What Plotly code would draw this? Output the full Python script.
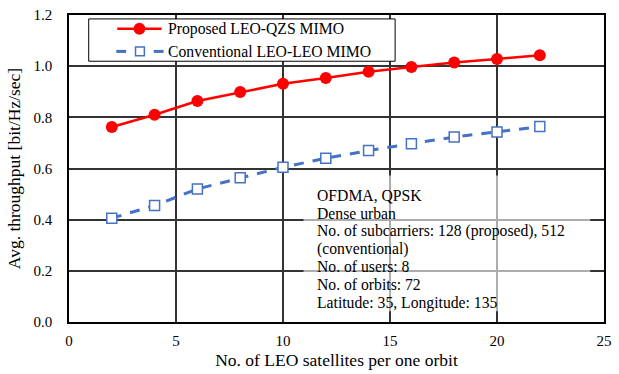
import plotly.graph_objects as go

# Satellites per orbit
sats = [2, 4, 6, 8, 10, 12, 14, 16, 18, 20, 22]

# Average throughput [bit/Hz/sec]
proposed = [0.762, 0.810, 0.864, 0.899, 0.931, 0.954, 0.978, 0.997, 1.014, 1.028, 1.043]
conventional = [0.406, 0.455, 0.520, 0.564, 0.605, 0.640, 0.670, 0.697, 0.723, 0.743, 0.764]

series_names = ["Proposed LEO-QZS MIMO", "Conventional LEO-LEO MIMO"]

x_ticks = [0, 5, 10, 15, 20, 25]
y_ticks = [0.0, 0.2, 0.4, 0.6, 0.8, 1.0, 1.2]

conditions = [
    "OFDMA, QPSK",
    "Dense urban",
    "No. of subcarriers: 128 (proposed), 512",
    "(conventional)",
    "No. of users: 8",
    "No. of orbits: 72",
    "Latitude: 35, Longitude: 135",
]

FONT = "Liberation Serif, Times New Roman, serif"
RED = "#FF0000"
BLUE = "#4472C4"

W, H = 619, 374
M = dict(l=69, r=7, t=12, b=50)
plot_w = W - M["l"] - M["r"]
plot_h = H - M["t"] - M["b"]


def px_x(px):
    """Page x pixel -> paper fraction."""
    return (px - M["l"]) / plot_w


def px_y(py):
    """Page y pixel -> paper fraction."""
    return 1 - (py - M["t"]) / plot_h


fig = go.Figure()
fig.add_trace(go.Scatter(
    x=sats, y=proposed, mode="lines+markers",
    name=series_names[0], showlegend=False,
    line=dict(color=RED, width=2.5),
    marker=dict(symbol="circle", size=12, color=RED),
))
fig.add_trace(go.Scatter(
    x=sats, y=conventional, mode="lines+markers",
    name=series_names[1], showlegend=False,
    line=dict(color=BLUE, width=3, dash="10px,9px"),
    marker=dict(symbol="square", size=10, color="white",
                line=dict(width=1.5, color=BLUE)),
))

shapes = []

# Semi-transparent panel behind the simulation conditions
shapes.append(dict(
    type="rect", xref="paper", yref="paper",
    x0=px_x(307), x1=px_x(598), y0=px_y(313), y1=px_y(175),
    fillcolor="rgba(255,255,255,0.6)", line=dict(width=0), layer="above",
))

# Legend box
shapes.append(dict(
    type="rect", xref="paper", yref="paper",
    x0=px_x(89), x1=px_x(400), y0=px_y(59), y1=px_y(16),
    fillcolor="white", line=dict(color="black", width=1), layer="above",
))

row_y = [26, 49]
# Key 1: solid red line with filled circle
shapes.append(dict(
    type="line", xref="paper", yref="paper",
    x0=px_x(118), x1=px_x(163), y0=px_y(row_y[0]), y1=px_y(row_y[0]),
    line=dict(color=RED, width=2.5), layer="above",
))
shapes.append(dict(
    type="circle", xref="paper", yref="paper",
    x0=px_x(140.5 - 6), x1=px_x(140.5 + 6),
    y0=px_y(row_y[0] + 6), y1=px_y(row_y[0] - 6),
    fillcolor=RED, line=dict(color=RED, width=0), layer="above",
))
# Key 2: dashed blue segments with open square
for a, b in [(117, 127), (155, 165)]:
    shapes.append(dict(
        type="line", xref="paper", yref="paper",
        x0=px_x(a), x1=px_x(b), y0=px_y(row_y[1]), y1=px_y(row_y[1]),
        line=dict(color=BLUE, width=3), layer="above",
    ))
shapes.append(dict(
    type="rect", xref="paper", yref="paper",
    x0=px_x(141 - 4.5), x1=px_x(141 + 4.5),
    y0=px_y(row_y[1] + 4.5), y1=px_y(row_y[1] - 4.5),
    fillcolor="white", line=dict(color=BLUE, width=1.5), layer="above",
))

for name, ry in zip(series_names, row_y):
    fig.add_annotation(
        x=px_x(168), y=px_y(ry), xref="paper", yref="paper",
        xanchor="left", yanchor="middle", align="left",
        text=name, showarrow=False, borderpad=0,
        font=dict(family=FONT, size=15.7, color="black"),
    )

# Condition text, one annotation per line for tight line spacing
line_px = 18.1
for i, txt in enumerate(conditions):
    fig.add_annotation(
        x=px_x(320), y=px_y(195.7 + i * line_px), xref="paper", yref="paper",
        xanchor="left", yanchor="middle", align="left",
        text=txt, showarrow=False, borderpad=0,
        font=dict(family=FONT, size=15.7, color="black"),
    )

fig.update_layout(
    width=W, height=H,
    margin=M,
    paper_bgcolor="white", plot_bgcolor="white",
    font=dict(family=FONT, size=15, color="black"),
    showlegend=False,
    shapes=shapes,
)
fig.update_xaxes(
    range=[0, 25], tickvals=x_ticks, ticks="",
    ticklabelstandoff=4,
    showgrid=True, gridcolor="#333333", gridwidth=1.5,
    showline=True, linecolor="black", linewidth=1.5, mirror=True,
    zeroline=False,
    title=dict(text="No. of LEO satellites per one orbit", standoff=6,
               font=dict(size=17.5)),
)
fig.update_yaxes(
    range=[0, 1.2], tickvals=y_ticks, tickformat=".1f", ticks="",
    ticklabelstandoff=12,
    showgrid=True, gridcolor="#333333", gridwidth=1.5,
    showline=True, linecolor="black", linewidth=1.5, mirror=True,
    zeroline=False,
    title=dict(text="Avg. throughput [bit/Hz/sec]", standoff=8,
               font=dict(size=17.5)),
)

fig.write_html("out.html")
